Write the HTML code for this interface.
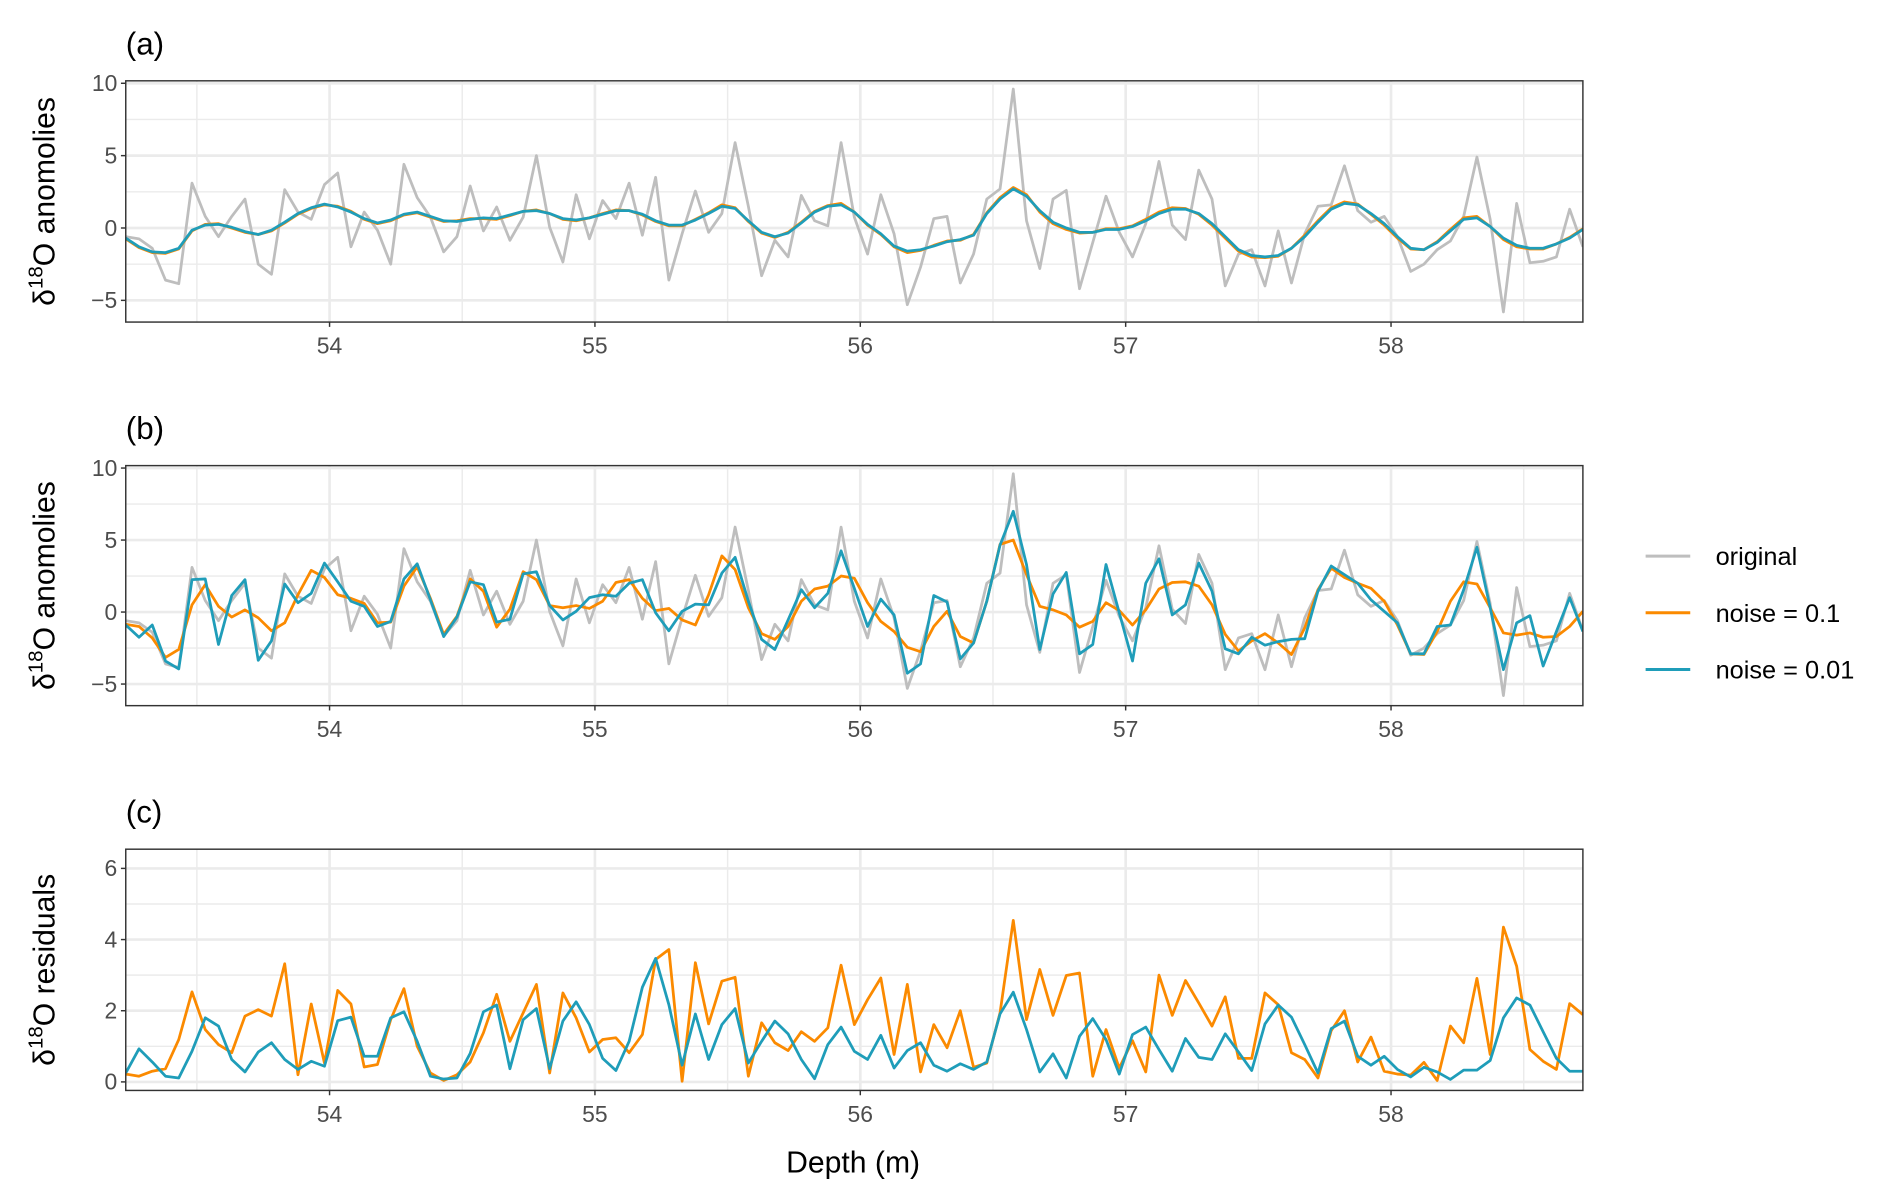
<!DOCTYPE html>
<html><head><meta charset="utf-8">
<style>
html,body{margin:0;padding:0;background:#fff;}
svg{display:block;font-family:"Liberation Sans",sans-serif;}
</style></head>
<body>
<svg id="chart" width="1892" height="1199" viewBox="0 0 1568 994" xmlns="http://www.w3.org/2000/svg">
<rect x="0" y="0" width="1568" height="994" fill="#fff"/>
</svg>
<script>
const depthStart = 53.232, depthEnd = 58.723, nPoints = 111;
const original = [-0.6,-0.75,-1.4,-3.6,-3.85,3.1,0.8,-0.6,0.8,2.0,-2.5,-3.2,2.65,1.1,0.6,3.0,3.8,-1.3,1.1,-0.15,-2.5,4.4,2.1,0.75,-1.65,-0.6,2.9,-0.2,1.45,-0.85,0.75,5.0,0.05,-2.35,2.3,-0.75,1.9,0.65,3.1,-0.5,3.5,-3.6,-0.4,2.55,-0.3,1.0,5.9,1.5,-3.3,-0.85,-2.0,2.25,0.5,0.15,5.9,0.75,-1.8,2.3,-0.4,-5.3,-2.7,0.65,0.8,
-3.8,-1.8,2.0,2.7,9.6,0.5,-2.8,2.0,2.6,-4.2,-1.0,2.2,-0.3,-2.0,0.3,4.6,0.2,-0.8,4.0,2.0,-4.0,-1.8,-1.5,-4.0,-0.2,-3.8,-0.4,1.5,1.6,4.3,1.2,0.4,0.8,-0.6,-3.0,-2.5,-1.5,-0.9,0.8,4.9,0.6,-5.8,1.7,-2.4,-2.3,-2.0,1.3,-1.3];
const smoothBlueA = [-0.7,-1.3,-1.65,-1.7,-1.4,-0.15,0.2,0.25,0.05,-0.25,-0.45,-0.15,0.4,1.0,1.4,1.65,1.45,1.1,0.65,0.35,0.55,0.95,1.1,0.8,0.5,0.45,0.6,0.7,0.65,0.9,1.15,1.2,1.0,0.65,0.55,0.7,0.95,1.2,1.2,0.95,0.5,0.2,0.2,0.55,1.0,1.5,1.35,0.5,-0.3,-0.6,-0.35,0.35,1.1,1.5,1.6,1.1,0.25,-0.4,-1.25,-1.6,-1.5,-1.25,-0.95,
-0.8,-0.5,1.0,2.0,2.7,2.2,1.2,0.4,0.0,-0.3,-0.3,-0.1,-0.1,0.1,0.5,1.0,1.3,1.3,1.0,0.3,-0.6,-1.5,-1.9,-2.0,-1.9,-1.4,-0.6,0.4,1.3,1.7,1.6,1.0,0.3,-0.6,-1.4,-1.5,-1.0,-0.2,0.6,0.7,0.1,-0.7,-1.2,-1.4,-1.4,-1.1,-0.7,-0.1];
const smoothOrangeA = [-0.75,-1.35,-1.7,-1.75,-1.45,-0.2,0.25,0.3,0.0,-0.3,-0.45,-0.2,0.35,0.95,1.35,1.6,1.5,1.15,0.6,0.3,0.5,0.9,1.05,0.75,0.45,0.5,0.65,0.65,0.6,0.85,1.15,1.25,1.0,0.6,0.5,0.7,1.0,1.25,1.2,0.9,0.45,0.15,0.15,0.6,1.05,1.6,1.4,0.45,-0.35,-0.65,-0.3,0.4,1.15,1.55,1.7,1.1,0.2,-0.45,-1.3,-1.7,-1.55,-1.2,-0.9,
-0.85,-0.45,1.05,2.1,2.8,2.3,1.1,0.3,-0.1,-0.35,-0.3,-0.05,-0.05,0.15,0.6,1.1,1.4,1.35,0.95,0.2,-0.7,-1.6,-2.0,-2.05,-1.95,-1.4,-0.5,0.5,1.4,1.8,1.65,0.95,0.2,-0.7,-1.45,-1.5,-0.95,-0.1,0.7,0.8,0.1,-0.8,-1.3,-1.45,-1.45,-1.1,-0.65,-0.05];
const noise01B = [-0.85,-1.0,-1.8,-3.15,-2.6,0.5,1.9,0.4,-0.35,0.15,-0.4,-1.3,-0.75,1.2,2.9,2.4,1.2,0.95,0.6,-0.75,-0.7,1.8,3.15,0.95,-1.55,-0.3,2.3,1.45,-1.05,0.2,2.8,2.25,0.45,0.3,0.45,0.25,0.75,2.05,
2.25,0.95,0.1,0.25,-0.55,-0.9,1.2,3.9,2.95,0.3,-1.5,-1.9,-1.0,0.75,1.6,1.8,2.5,2.35,0.65,-0.65,-1.35,-2.45,-2.75,-1.0,0.05,-1.7,-2.15,0.75,4.7,5.0,2.6,0.4,0.15,-0.2,-1.05,
-0.65,0.65,0.1,-0.9,0.15,1.6,2.05,2.1,1.8,0.5,-1.55,-2.7,-2.0,-1.5,-2.15,-2.95,-1.1,1.55,3.05,2.4,2.0,1.65,0.75,-0.9,-2.9,-2.95,-1.35,0.75,2.1,1.95,0.3,-1.45,-1.6,-1.45,-1.75,-1.7,-1.0,0.05];
const noise001B = [-0.9,-1.75,-0.9,-3.4,-3.95,2.25,2.3,-2.25,1.15,2.25,-3.35,-2.0,1.95,0.65,1.3,3.4,2.1,0.75,0.4,-1.0,-0.65,2.3,3.35,0.85,-1.7,-0.35,2.1,1.9,-0.7,-0.5,2.65,2.8,0.45,-0.55,0.05,1.0,1.2,1.1,
2.0,2.25,-0.05,-1.3,0.05,0.55,0.5,2.7,3.8,0.75,-1.9,-2.6,-0.55,1.55,0.3,1.3,4.25,1.65,-1.0,0.9,-0.2,-4.25,-3.6,1.15,0.7,-3.25,-2.15,0.75,4.65,7.0,3.3,-2.6,1.25,2.75,-2.9,
-2.25,3.3,-0.05,-3.4,2.0,3.7,-0.2,0.5,3.4,1.45,-2.55,-2.9,-1.75,-2.3,-2.05,-1.9,-1.85,1.45,3.2,2.6,2.0,0.85,0.05,-0.75,-2.9,-2.9,-1.0,-0.9,1.55,4.5,0.3,-4.0,-0.75,-0.25,-3.75,-1.35,1.0,-1.35];
const residOrange = [0.22,0.16,0.3,0.37,1.19,2.53,1.47,1.05,0.82,1.85,2.03,1.85,3.32,0.2,2.19,0.53,2.57,2.19,0.42,0.49,1.75,2.62,1.0,0.25,0.04,0.2,0.56,1.38,2.46,1.14,1.94,2.74,0.25,2.5,1.8,0.84,1.19,1.24,
0.82,1.33,3.44,3.72,0.02,3.35,1.63,2.83,2.94,0.16,1.66,1.1,0.88,1.41,1.14,1.52,3.28,1.61,2.31,2.92,0.77,2.74,0.28,1.61,0.96,2.0,0.41,0.53,1.94,4.54,1.75,3.16,1.87,2.99,3.06,
0.16,1.47,0.39,1.16,0.28,3.0,1.87,2.85,2.22,1.57,2.39,0.66,0.66,2.5,2.17,0.82,0.63,0.11,1.44,2.0,0.56,1.26,0.3,0.22,0.19,0.55,0.04,1.57,1.1,2.91,0.77,4.35,3.25,0.91,0.58,0.35,2.2,1.89];
const residBlue = [0.25,0.93,0.56,0.16,0.11,0.86,1.8,1.57,0.63,0.28,0.84,1.1,0.63,0.35,0.58,0.44,1.72,1.82,0.72,0.72,1.8,1.97,1.14,0.16,0.08,0.11,0.8,1.97,2.16,0.37,1.75,2.06,0.37,1.71,2.25,1.61,0.66,0.32,
1.14,2.66,3.47,2.17,0.47,1.91,0.63,1.61,2.06,0.53,1.14,1.71,1.35,0.63,0.09,1.05,1.54,0.86,0.63,1.31,0.39,0.88,1.1,0.47,0.3,0.51,0.35,0.56,1.91,2.52,1.47,0.28,0.79,0.11,1.28,
1.78,1.19,0.22,1.33,1.54,0.91,0.3,1.22,0.69,0.63,1.35,0.84,0.32,1.63,2.16,1.82,1.05,0.25,1.5,1.71,0.72,0.47,0.72,0.35,0.14,0.41,0.28,0.07,0.33,0.33,0.6,1.8,2.36,2.16,1.41,0.66,0.3,0.3];
const xTicks = [54,55,56,57,58];
const xMinor = [53.5,54.5,55.5,56.5,57.5,58.5];
const yTicksAB = [-5,0,5,10];
const yMinorAB = [-2.5,2.5,7.5];
const yTicksC = [0,2,4,6];
const yMinorC = [1,3,5];

const NS = "http://www.w3.org/2000/svg";
const svg = document.getElementById("chart");
function mk(tag, attrs, parent){
  const e = document.createElementNS(NS, tag);
  for (const k in attrs) e.setAttribute(k, attrs[k]);
  (parent||svg).appendChild(e);
  return e;
}
const X0 = 104, X1 = 1312;
function xs(d){ return X0 + (d - depthStart) / (depthEnd - depthStart) * (X1 - X0); }
const depths = original.map((_, i) => depthStart + i * (depthEnd - depthStart) / (nPoints - 1));
const COL = {grey:"#bebebe", orange:"#fb8a00", blue:"#1f9db9"};

function panel(key, label, top, bottom, yMin, yMax, ticks, minor, title, series){
  const ys = v => bottom - (v - yMin) / (yMax - yMin) * (bottom - top);
  const g = mk("g", {});
  
  
  minor.forEach(v => mk("line",{x1:X0,x2:X1,y1:ys(v),y2:ys(v),stroke:"#ebebeb","stroke-width":1.2},g));
  xMinor.forEach(v => mk("line",{x1:xs(v),x2:xs(v),y1:top,y2:bottom,stroke:"#ebebeb","stroke-width":1.2},g));
  ticks.forEach(v => mk("line",{x1:X0,x2:X1,y1:ys(v),y2:ys(v),stroke:"#ebebeb","stroke-width":2.2},g));
  xTicks.forEach(v => mk("line",{x1:xs(v),x2:xs(v),y1:top,y2:bottom,stroke:"#ebebeb","stroke-width":2.2},g));
  const clipId = "clip-" + key;
  const cp = mk("clipPath",{id:clipId},g);
  mk("rect",{x:X0,y:top,width:X1-X0,height:bottom-top},cp);
  series.forEach(s => {
    const pts = s.vals.map((v,i) => xs(depths[i]).toFixed(2) + "," + ys(v).toFixed(2)).join(" ");
    const pl = mk("polyline",{points:pts,fill:"none",stroke:s.color,"stroke-width":2.3,"stroke-linejoin":"round","clip-path":"url(#"+clipId+")"},g);
    
    
  });
  mk("rect",{x:X0,y:top,width:X1-X0,height:bottom-top,fill:"none",stroke:"#333","stroke-width":1.2},g);
  ticks.forEach(v => {
    mk("line",{x1:X0-4,x2:X0,y1:ys(v),y2:ys(v),stroke:"#333","stroke-width":1.2},g);
    const t = mk("text",{x:X0-7,y:ys(v)+6.5,"text-anchor":"end","font-size":19,fill:"#4d4d4d"},g);
    t.textContent = v < 0 ? "\u2212" + Math.abs(v) : String(v);
    
    
  });
  xTicks.forEach(v => {
    mk("line",{x1:xs(v),x2:xs(v),y1:bottom,y2:bottom+4,stroke:"#333","stroke-width":1.2},g);
    const t = mk("text",{x:xs(v),y:bottom+26,"text-anchor":"middle","font-size":19,fill:"#4d4d4d"},g);
    t.textContent = String(v);
    
    
  });
  const lab = mk("text",{x:104,y:top-22,"font-size":26,fill:"#000"},g);
  lab.textContent = label;
  
  
  const cy = (top + bottom) / 2;
  const yt = mk("text",{x:0,y:0,"text-anchor":"middle","font-size":25,fill:"#000",transform:"translate(45,"+cy+") rotate(-90)"},g);
  
  
  const a = document.createElementNS(NS,"tspan"); a.textContent = "\u03b4"; yt.appendChild(a);
  const b = document.createElementNS(NS,"tspan"); b.setAttribute("dy","-10"); b.setAttribute("font-size","17"); b.textContent = "18"; yt.appendChild(b);
  const c = document.createElementNS(NS,"tspan"); c.setAttribute("dy","10"); c.textContent = "O " + title; yt.appendChild(c);
}

panel("a","(a)",67,267,-6.5,10.17,yTicksAB,yMinorAB,"anomolies",[
  {name:"original",color:COL.grey,vals:original},
  {name:"noise-0-1",color:COL.orange,vals:smoothOrangeA},
  {name:"noise-0-01",color:COL.blue,vals:smoothBlueA}]);
panel("b","(b)",386,585,-6.5,10.17,yTicksAB,yMinorAB,"anomolies",[
  {name:"original",color:COL.grey,vals:original},
  {name:"noise-0-1",color:COL.orange,vals:noise01B},
  {name:"noise-0-01",color:COL.blue,vals:noise001B}]);
panel("c","(c)",704,904,-0.24,6.54,yTicksC,yMinorC,"residuals",[
  {name:"noise-0-1",color:COL.orange,vals:residOrange},
  {name:"noise-0-01",color:COL.blue,vals:residBlue}]);

const xt = mk("text",{x:707,y:972,"text-anchor":"middle","font-size":25,fill:"#000"});
xt.textContent = "Depth (m)";



const legendLabels = ["original","noise = 0.1","noise = 0.01"];
const legendColors = [COL.grey, COL.orange, COL.blue];
const legendY = [461,508,555];
const lg = mk("g",{});


legendLabels.forEach((lab,i) => {
  const item = mk("g",{},lg);
  
  
  mk("line",{x1:1364,x2:1401,y1:legendY[i],y2:legendY[i],stroke:legendColors[i],"stroke-width":2.5},item);
  const t = mk("text",{x:1422,y:legendY[i]+7.5,"font-size":21,fill:"#000"},item);
  t.textContent = lab;
});
</script>
</body></html>
